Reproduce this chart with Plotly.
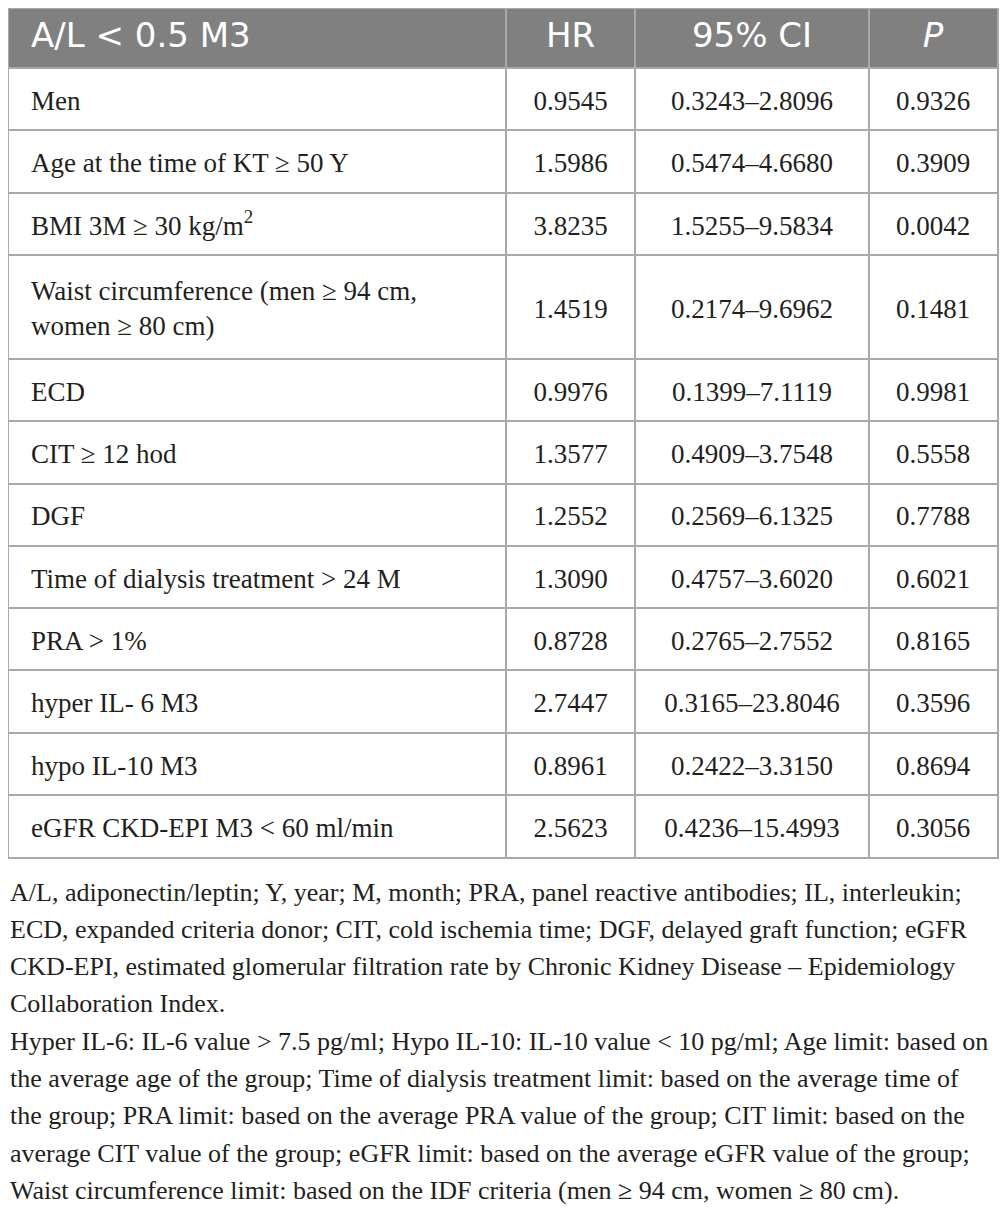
import plotly.graph_objects as go

# ---- data -------------------------------------------------------------
header = ['A/L &lt; 0.5 M3', 'HR', '95% CI', '<i>P</i>']

variables = [
    'Men',
    'Age at the time of KT ≥ 50 Y',
    'BMI 3M ≥ 30 kg/m<sup>2</sup>',
    'Waist circumference (men ≥ 94 cm,<br>women ≥ 80 cm)',
    'ECD',
    'CIT ≥ 12 hod',
    'DGF',
    'Time of dialysis treatment &gt; 24 M',
    'PRA &gt; 1%',
    'hyper IL- 6 M3',
    'hypo IL-10 M3',
    'eGFR CKD-EPI M3 &lt; 60 ml/min',
]
hr = ['0.9545', '1.5986', '3.8235', '1.4519', '0.9976', '1.3577',
      '1.2552', '1.3090', '0.8728', '2.7447', '0.8961', '2.5623']
ci = ['0.3243–2.8096', '0.5474–4.6680', '1.5255–9.5834', '0.2174–9.6962',
      '0.1399–7.1119', '0.4909–3.7548', '0.2569–6.1325', '0.4757–3.6020',
      '0.2765–2.7552', '0.3165–23.8046', '0.2422–3.3150', '0.4236–15.4993']
p_values = ['0.9326', '0.3909', '0.0042', '0.1481', '0.9981', '0.5558',
            '0.7788', '0.6021', '0.8165', '0.3596', '0.8694', '0.3056']

footnote_lines = [
    'A/L, adiponectin/leptin; Y, year; M, month; PRA, panel reactive antibodies; IL, interleukin;',
    'ECD, expanded criteria donor; CIT, cold ischemia time; DGF, delayed graft function; eGFR',
    'CKD-EPI, estimated glomerular filtration rate by Chronic Kidney Disease – Epidemiology',
    'Collaboration Index.',
    'Hyper IL-6: IL-6 value &gt; 7.5 pg/ml; Hypo IL-10: IL-10 value &lt; 10 pg/ml; Age limit: based on',
    'the average age of the group; Time of dialysis treatment limit: based on the average time of',
    'the group; PRA limit: based on the average PRA value of the group; CIT limit: based on the',
    'average CIT value of the group; eGFR limit: based on the average eGFR value of the group;',
    'Waist circumference limit: based on the IDF criteria (men ≥ 94 cm, women ≥ 80 cm).',
]

# ---- layout, in page pixels -------------------------------------------
PAGE_W, PAGE_H = 1007, 1208
OFF = 8                      # default body margin of the html page
FW, FH = PAGE_W - OFF, PAGE_H - OFF

left, right, top = 9, 997, 9
col_edges = [left, 506, 635, 869, right]
header_bottom = 68
row_h = 62.3
tall_h = 104                 # the two-line "Waist circumference" row
row_heights = [tall_h if '<br>' in v else row_h for v in variables]

row_edges = [header_bottom]
for h in row_heights:
    row_edges.append(row_edges[-1] + h)
bottom = row_edges[-1]
row_mid = [(a + b) / 2 + 4 for a, b in zip(row_edges[:-1], row_edges[1:])]
col_mid = [(a + b) / 2 for a, b in zip(col_edges[:-1], col_edges[1:])]
text_x0 = 31                 # left inset of the first column

line_col = '#a7a9ac'
head_fill = '#808080'
text_col = '#231f20'
serif = 'Liberation Serif'
sans = 'DejaVu Sans'


def xdom(px):
    return (px - OFF) / FW


def ydom(px):
    return 1 - (px - OFF) / FH


fig = go.Figure()

# header band
fig.add_shape(type='rect', xref='x', yref='y', layer='below',
              x0=left, x1=right, y0=top, y1=header_bottom,
              fillcolor=head_fill, line_width=0)

# header labels
head_y = (top + header_bottom) / 2
head_font = dict(family=sans, size=34, color='white')
fig.add_trace(go.Scatter(x=[text_x0], y=[head_y],
                         text=[header[0]], mode='text',
                         textposition='middle right', textfont=head_font))
fig.add_trace(go.Scatter(x=col_mid[1:], y=[head_y] * 3,
                         text=header[1:], mode='text',
                         textposition='middle center', textfont=head_font))

# body cells
body_font = dict(family=serif, size=27, color=text_col)
fig.add_trace(go.Scatter(x=[text_x0] * len(variables), y=row_mid,
                         text=variables, mode='text',
                         textposition='middle right', textfont=body_font))
for j, col in enumerate([hr, ci, p_values], start=1):
    fig.add_trace(go.Scatter(x=[col_mid[j]] * len(col), y=row_mid,
                             text=col, mode='text',
                             textposition='middle center', textfont=body_font))

fig.update_traces(hoverinfo='skip', showlegend=False, cliponaxis=False)

# cell borders come from the grid of the axes
fig.update_xaxes(domain=[xdom(left), xdom(right)], range=[left, right],
                 tickmode='array', tickvals=col_edges[1:-1],
                 showgrid=True, gridcolor=line_col, gridwidth=2,
                 showline=True, linecolor=line_col, linewidth=2, mirror=True,
                 showticklabels=False, ticks='', zeroline=False, fixedrange=True)
fig.update_yaxes(domain=[ydom(bottom), ydom(top)], range=[bottom, top],
                 tickmode='array', tickvals=row_edges[:-1],
                 showgrid=True, gridcolor=line_col, gridwidth=2,
                 showline=True, linecolor=line_col, linewidth=2, mirror=True,
                 showticklabels=False, ticks='', zeroline=False, fixedrange=True)

# ---- footnote ---------------------------------------------------------
foot_top = 892
foot_gap = 37.3
for i, txt in enumerate(footnote_lines):
    fig.add_annotation(
        text=txt, xref='paper', yref='paper',
        x=0, y=ydom(foot_top + i * foot_gap),
        xanchor='left', yanchor='middle', showarrow=False, align='left',
        font=dict(family=serif, size=26, color=text_col),
    )

fig.update_layout(
    width=FW, height=FH,
    margin=dict(l=0, r=0, t=0, b=0),
    paper_bgcolor='white',
    plot_bgcolor='white',
)

fig.write_html('out.html')
